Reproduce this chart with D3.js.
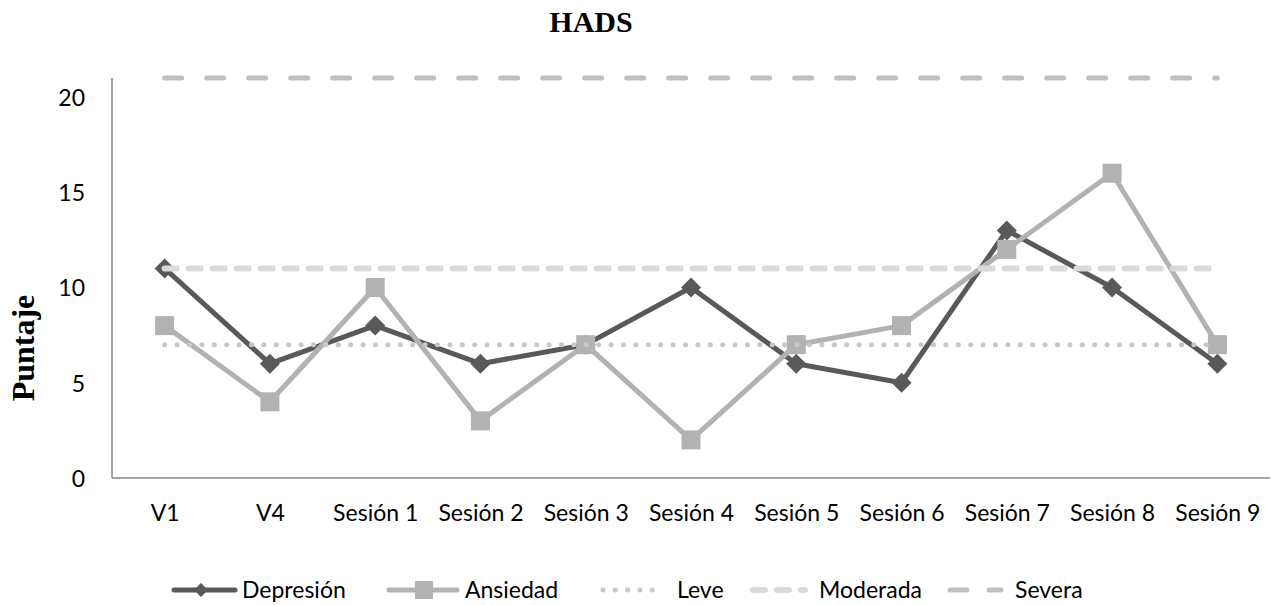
<!DOCTYPE html>
<html>
<head>
<meta charset="utf-8">
<script src="https://cdn.jsdelivr.net/npm/d3@7"></script>
<style>
  html, body { margin: 0; padding: 0; background: #fff; }
  svg { display: block; }
  .tick-label { font-family: Lato, "Open Sans", sans-serif; font-size: 23px; fill: #000; }
</style>
</head>
<body>
<svg id="chart" width="1271" height="605"></svg>
<script>
// HADS scores per visit
const categories = ["V1", "V4", "Sesión 1", "Sesión 2", "Sesión 3", "Sesión 4", "Sesión 5", "Sesión 6", "Sesión 7", "Sesión 8", "Sesión 9"];
const depresion = [11, 6, 8, 6, 7, 10, 6, 5, 13, 10, 6];
const ansiedad  = [8, 4, 10, 3, 7, 2, 7, 8, 12, 16, 7];
// Cut-off thresholds
const leve = 7;
const moderada = 11;
const severa = 21;
const yTicks = [0, 5, 10, 15, 20];

const svg = d3.select("#chart");
const plotLeft = 112, plotRight = 1270, plotTop = 78, plotBottom = 478;

const x = d3.scalePoint().domain(categories).range([plotLeft, plotRight]).padding(0.5);
const y = d3.scaleLinear().domain([0, 21]).range([plotBottom, plotTop]);

// Title
svg.append("text")
  .attr("x", 591).attr("y", 32)
  .attr("text-anchor", "middle")
  .style("font-family", "'Liberation Serif', 'Times New Roman', serif")
  .style("font-weight", "bold").style("font-size", "30px")
  .text("HADS");

// Y axis title
svg.append("text")
  .attr("transform", "translate(34,348) rotate(-90)")
  .attr("text-anchor", "middle")
  .style("font-family", "'Liberation Serif', 'Times New Roman', serif")
  .style("font-weight", "bold").style("font-size", "32px")
  .text("Puntaje");

// Axes (lines only, no tick marks)
const yAxis = d3.axisLeft(y).tickValues(yTicks).tickSize(0).tickPadding(27);
const gy = svg.append("g").attr("transform", `translate(${plotLeft},0)`).call(yAxis);
gy.select(".domain").attr("d", `M0,${plotTop}V${plotBottom}`).attr("stroke", "#868686").attr("stroke-width", 1.5);
gy.selectAll(".tick text").attr("class", "tick-label").attr("dy", "0.36em");

const xAxis = d3.axisBottom(x).tickSize(0).tickPadding(27);
const gx = svg.append("g").attr("transform", `translate(0,${plotBottom})`).call(xAxis);
gx.select(".domain").attr("d", `M${plotLeft},0H${plotRight}`).attr("stroke", "#868686").attr("stroke-width", 1.5);
gx.selectAll(".tick text").attr("class", "tick-label").attr("dy", "0.71em").attr("y", 27);

const line = d3.line().x((d, i) => x(categories[i])).y(d => y(d));

// Series: Depresión underneath, Ansiedad on top
const cDep = "#595959", cAns = "#b2b2b2";
const cLeve = "#c8c8c8", cMod = "#d9d9d9", cSev = "#bfbfbf";
const diamond = s => `M0,${-s}L${s},0L0,${s}L${-s},0Z`;

svg.append("path").datum(depresion).attr("d", line)
  .attr("fill", "none").attr("stroke", cDep).attr("stroke-width", 5).attr("stroke-linejoin", "round");
svg.selectAll(".dm").data(depresion).enter().append("path")
  .attr("transform", (d, i) => `translate(${x(categories[i])},${y(d)})`)
  .attr("d", diamond(10)).attr("fill", cDep);

svg.append("path").datum(ansiedad).attr("d", line)
  .attr("fill", "none").attr("stroke", cAns).attr("stroke-width", 5).attr("stroke-linejoin", "round");
svg.selectAll(".sq").data(ansiedad).enter().append("rect")
  .attr("x", (d, i) => x(categories[i]) - 9.5).attr("y", d => y(d) - 9.5)
  .attr("width", 19).attr("height", 19).attr("fill", cAns);

// Threshold lines
const x0 = x(categories[0]), x1 = x(categories[categories.length - 1]);
function refLine(v, color, dash, w) {
  svg.append("line")
    .attr("x1", x0).attr("x2", x1).attr("y1", y(v)).attr("y2", y(v))
    .attr("stroke", color).attr("stroke-width", w)
    .attr("stroke-dasharray", dash).attr("stroke-linecap", "round");
}
refLine(leve, cLeve, "0.1,12.3", 5);
refLine(moderada, cMod, "12,12", 6);
refLine(severa, cSev, "17,25", 5);

// Legend
const ly = 590;
const lg = svg.append("g");
function legendText(xp, label) {
  lg.append("text").attr("x", xp).attr("y", ly + 8)
    .style("font-family", "Lato, 'Open Sans', sans-serif").style("font-size", "23px")
    .text(label);
}
lg.append("line").attr("x1", 174).attr("x2", 235).attr("y1", ly).attr("y2", ly)
  .attr("stroke", cDep).attr("stroke-width", 5).attr("stroke-linecap", "round");
lg.append("path").attr("transform", `translate(201,${ly})`).attr("d", diamond(7)).attr("fill", cDep);
legendText(242, "Depresión");

lg.append("line").attr("x1", 389).attr("x2", 457).attr("y1", ly).attr("y2", ly)
  .attr("stroke", cAns).attr("stroke-width", 5).attr("stroke-linecap", "round");
lg.append("rect").attr("x", 415).attr("y", ly - 9).attr("width", 18).attr("height", 18).attr("fill", cAns);
legendText(465, "Ansiedad");

lg.append("line").attr("x1", 603).attr("x2", 664).attr("y1", ly).attr("y2", ly)
  .attr("stroke", cLeve).attr("stroke-width", 5).attr("stroke-linecap", "round").attr("stroke-dasharray", "0.1,12.2");
legendText(677, "Leve");

lg.append("line").attr("x1", 753).attr("x2", 805).attr("y1", ly).attr("y2", ly)
  .attr("stroke", cMod).attr("stroke-width", 6).attr("stroke-linecap", "round").attr("stroke-dasharray", "12,12");
legendText(819, "Moderada");

lg.append("line").attr("x1", 950).attr("x2", 1001).attr("y1", ly).attr("y2", ly)
  .attr("stroke", cSev).attr("stroke-width", 5).attr("stroke-linecap", "round").attr("stroke-dasharray", "17,22");
legendText(1015, "Severa");
</script>
</body>
</html>
